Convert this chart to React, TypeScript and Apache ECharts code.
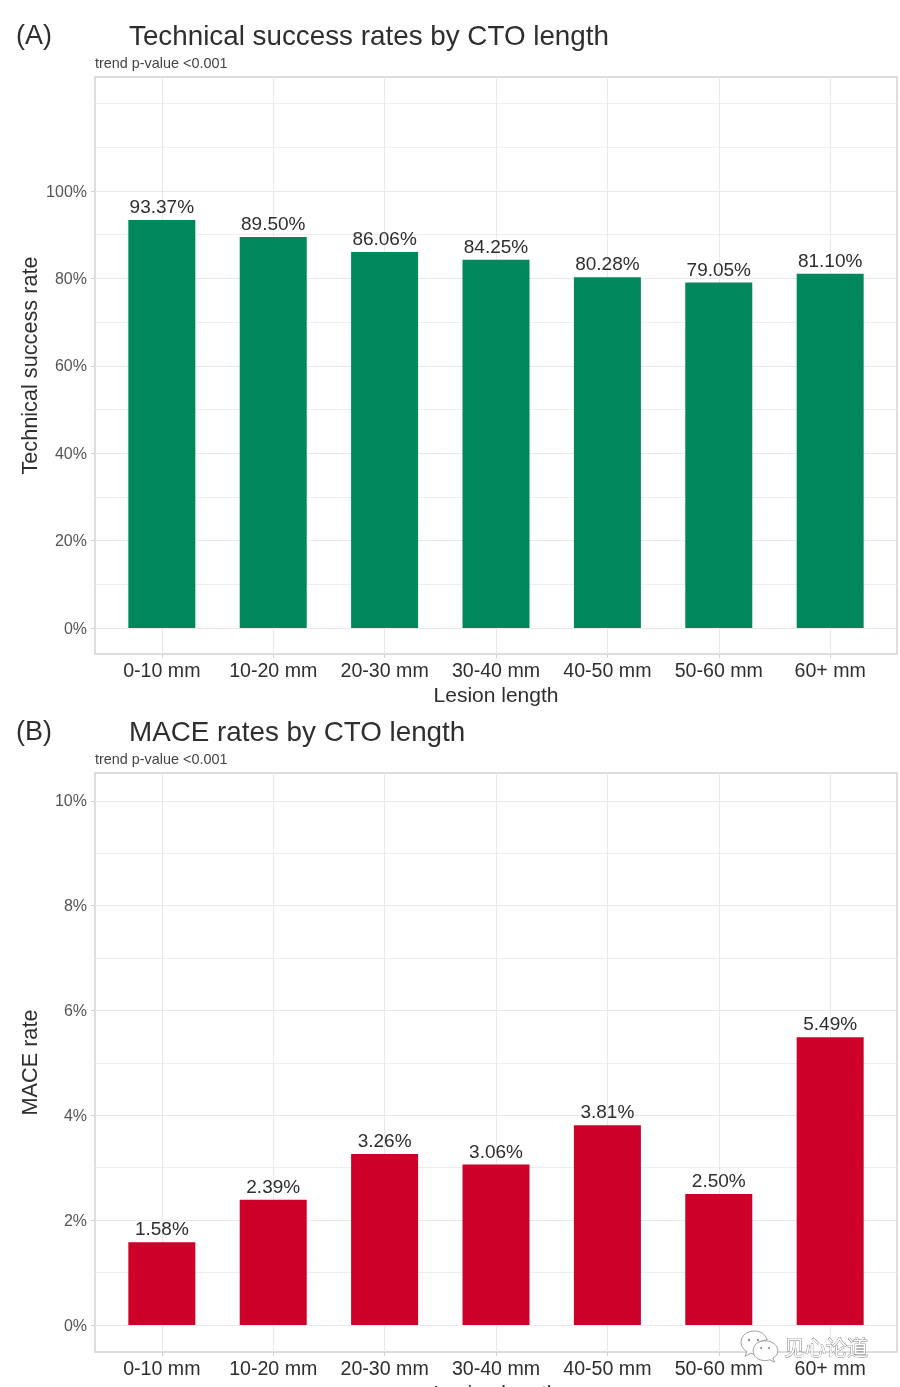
import React, { useEffect, useRef } from "react";
import * as echarts from "echarts";

const categories = ["0-10 mm", "10-20 mm", "20-30 mm", "30-40 mm", "40-50 mm", "50-60 mm", "60+ mm"];
const successRates = [93.37, 89.5, 86.06, 84.25, 80.28, 79.05, 81.1];
const maceRates = [1.58, 2.39, 3.26, 3.06, 3.81, 2.5, 5.49];
const successMajor = [0, 20, 40, 60, 80, 100];
const successMinor = [10, 30, 50, 70, 90, 110, 120];
const successLabels = [0, 20, 40, 60, 80, 100];
const maceMajor = [0, 2, 4, 6, 8, 10];
const maceMinor = [1, 3, 5, 7, 9];
const positions = [0, 1, 2, 3, 4, 5, 6];

const FONT = "'Liberation Sans', Arial, sans-serif";
const TEXT = "#2e2e2e";
const GRID = "#e9e9e9";
const BORDER = "#d2d2d2";

function xAxis(gridIndex: number) {
  return {
    type: "value",
    gridIndex,
    min: -0.6,
    max: 6.6,
    name: "Lesion length",
    nameLocation: "middle",
    nameGap: 30,
    nameTextStyle: { fontFamily: FONT, fontSize: 21, color: TEXT },
    axisLine: { show: false, onZero: false },
    axisTick: { show: true, length: 4, customValues: positions, lineStyle: { color: BORDER } },
    axisLabel: {
      customValues: positions,
      margin: 6,
      fontFamily: FONT,
      fontSize: 19.6,
      color: TEXT,
      formatter: (v: number) => categories[v],
    },
    splitLine: { show: true, lineStyle: { color: GRID, width: 1 } },
  };
}

function yAxes(gridIndex: number, name: string, nameGap: number, min: number, max: number, major: number[], labels: number[], minor: number[]) {
  return [
    {
      type: "value",
      gridIndex,
      min,
      max,
      name,
      nameLocation: "middle",
      nameGap,
      nameMoveOverlap: false,
      nameTextStyle: { fontFamily: FONT, fontSize: 21.7, color: TEXT },
      axisLine: { show: false, onZero: false },
      axisTick: { show: true, length: 4, customValues: major, lineStyle: { color: BORDER } },
      axisLabel: {
        customValues: labels,
        margin: 8,
        fontFamily: FONT,
        fontSize: 16,
        color: "#555555",
        formatter: (v: number) => `${v}%`,
      },
      splitLine: { show: true, lineStyle: { color: GRID, width: 1 } },
    },
    {
      type: "value",
      gridIndex,
      min,
      max,
      position: "left",
      axisLine: { show: false, onZero: false },
      axisTick: { show: false, customValues: minor },
      axisLabel: { show: false, customValues: minor },
      splitLine: { show: true, lineStyle: { color: "#eeeeee", width: 1 } },
    },
  ];
}

function bars(name: string, values: number[], color: string, axisIndex: number) {
  return {
    type: "bar",
    name,
    xAxisIndex: axisIndex,
    yAxisIndex: axisIndex * 2,
    barWidth: 67,
    data: values.map((v, i) => [positions[i], v]),
    itemStyle: { color },
    label: {
      show: true,
      position: "top",
      distance: 4,
      fontFamily: FONT,
      fontSize: 19,
      color: TEXT,
      formatter: (p: any) => `${p.value[1].toFixed(2)}%`,
    },
  };
}

function headerTitle(text: string, top: number) {
  return {
    text,
    left: 129,
    top,
    padding: 0,
    textStyle: { fontFamily: FONT, fontSize: 27.8, fontWeight: "normal", color: TEXT },
  };
}

function subTitle(top: number) {
  return {
    text: "trend p-value <0.001",
    left: 95,
    top,
    padding: 0,
    textStyle: { fontFamily: FONT, fontSize: 14.4, fontWeight: "normal", color: "#444444" },
  };
}

const bubble1 =
  "M16 0C7 0 0 6 0 14C0 19 3 22 7 25L5 31L12 27C14 28 16 28 18 28C17 26 17 25 17 23C17 16 23 11 32 11C30 4 24 0 16 0Z";
const bubble2 =
  "M24 12C16 12 10 17 10 24C10 31 16 36 24 36C26 36 28 36 30 35L36 38L34 33C38 31 40 28 40 24C40 17 33 12 24 12Z";

export default function App() {
  const ref = useRef<HTMLDivElement>(null);
  useEffect(() => {
    echarts.graphic.registerShape("wxBubbleA", echarts.graphic.extendPath(bubble1, {}));
    echarts.graphic.registerShape("wxBubbleB", echarts.graphic.extendPath(bubble2, {}));
    const chart = echarts.init(ref.current!, undefined, { renderer: "svg" });
    const wm = { fill: "#ffffff", stroke: "#8a8a8a", lineWidth: 1 };
    const eye = { fill: "#8a8a8a" };
    chart.setOption({
      animation: false,
      backgroundColor: "#ffffff",
      title: [headerTitle("Technical success rates by CTO length", 21), subTitle(56), headerTitle("MACE rates by CTO length", 717), subTitle(752)],
      grid: [
        { left: 95, top: 77, width: 802, height: 577, show: true, borderColor: BORDER, borderWidth: 1.5, backgroundColor: "#ffffff", outerBoundsMode: "none" },
        { left: 95, top: 773, width: 802, height: 579, show: true, borderColor: BORDER, borderWidth: 1.5, backgroundColor: "#ffffff", outerBoundsMode: "none" },
      ],
      xAxis: [xAxis(0), xAxis(1)],
      yAxis: [
        ...yAxes(0, "Technical success rate", 55, -5.95, 126.1, successMajor, successLabels, successMinor),
        ...yAxes(1, "MACE rate", 55, -0.515, 10.53, maceMajor, maceMajor, maceMinor),
      ],
      series: [bars("Technical success rate", successRates, "#00885c", 0), bars("MACE rate", maceRates, "#cc0029", 1)],
      graphic: [
        { type: "text", left: 16, top: 21, style: { text: "(A)", fontFamily: FONT, fontSize: 27, fill: TEXT } },
        { type: "text", left: 16, top: 717, style: { text: "(B)", fontFamily: FONT, fontSize: 27, fill: TEXT } },
        { type: "wxBubbleA", x: 741, y: 1331, scaleX: 0.82, scaleY: 0.82, style: wm, z: 20 },
        { type: "wxBubbleB", x: 745, y: 1331, scaleX: 0.82, scaleY: 0.82, style: wm, z: 21 },
        { type: "circle", shape: { cx: 749, cy: 1340, r: 1.2 }, style: eye, z: 22 },
        { type: "circle", shape: { cx: 758, cy: 1340, r: 1.2 }, style: eye, z: 22 },
        { type: "circle", shape: { cx: 761, cy: 1348, r: 1 }, style: eye, z: 22 },
        { type: "circle", shape: { cx: 769, cy: 1348, r: 1 }, style: eye, z: 22 },
        { type: "text", x: 784, y: 1335, z: 22, style: { text: "见心论道", fontFamily: "'Noto Sans CJK SC'", fontSize: 21, fill: "#ffffff", stroke: "#777777", lineWidth: 0.8 } },
      ],
    });
    return () => chart.dispose();
  }, []);
  return (
    <div
      ref={ref}
      style={{ position: "absolute", left: 0, top: 0, width: 900, height: 1387, overflow: "hidden", filter: "blur(0.5px)" }}
    />
  );
}
